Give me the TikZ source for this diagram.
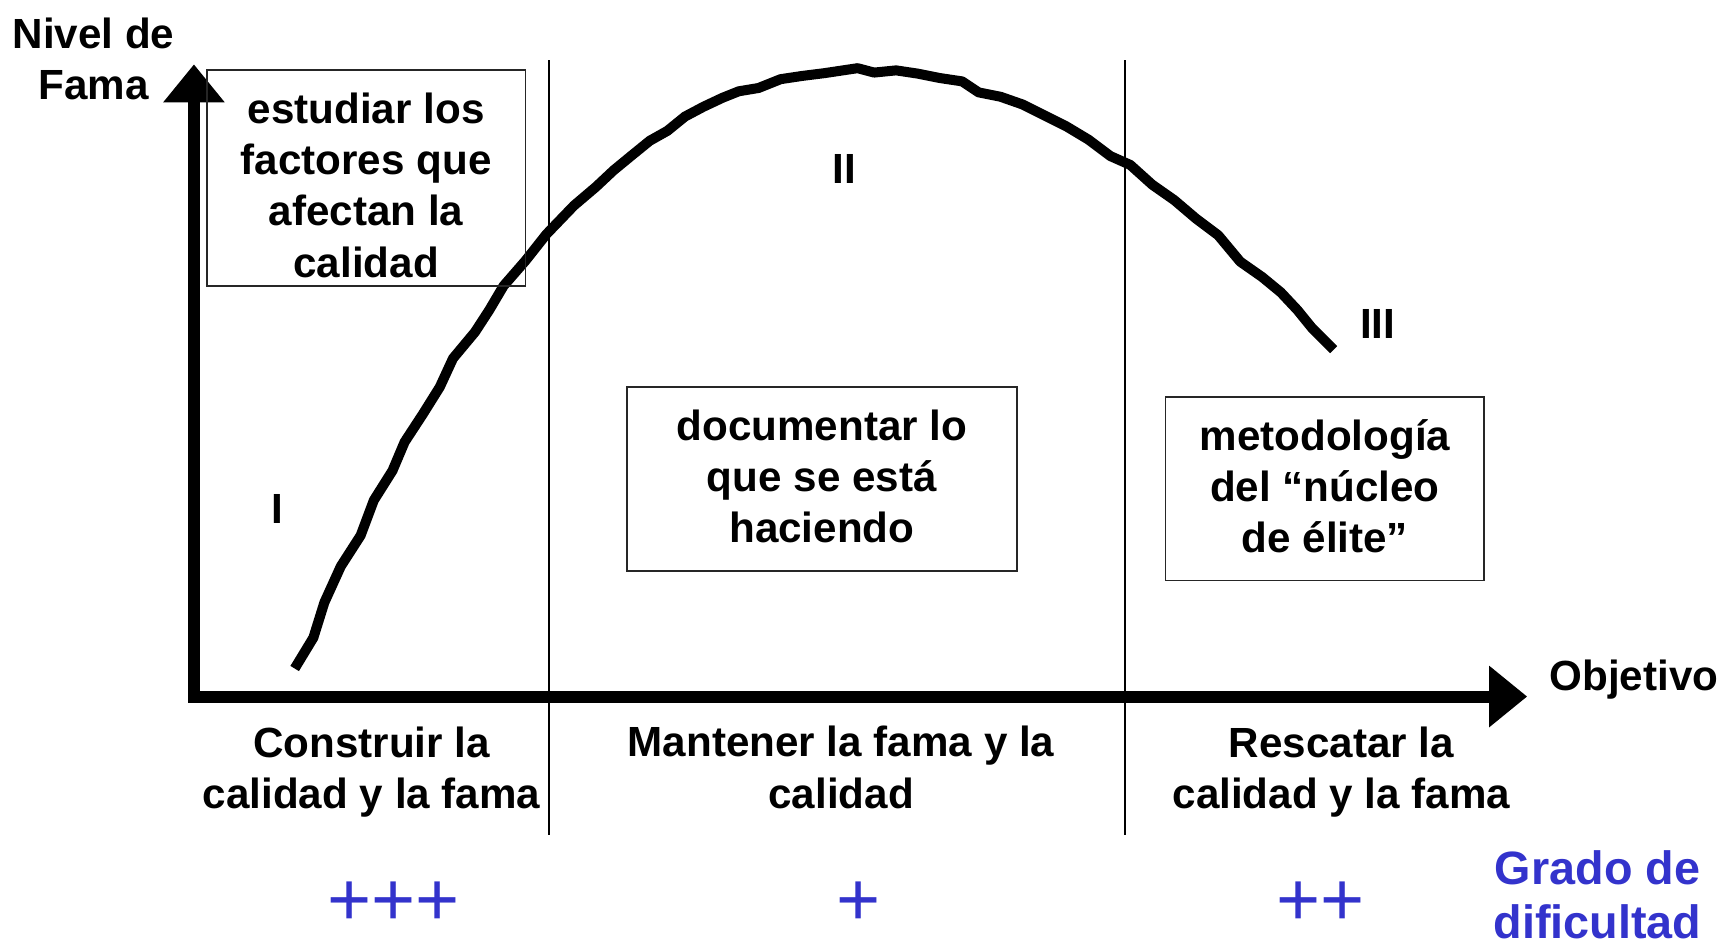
\documentclass[tikz,border=0pt]{standalone}
\usepackage{fontspec}
\setmainfont{Liberation Sans}
\usetikzlibrary{arrows.meta}
\definecolor{diffblue}{RGB}{51,51,204}
\begin{document}
\begin{tikzpicture}[x=0.02199cm,y=-0.02199cm,
  lbl/.style={font=\bfseries\fontsize{24}{29.1}\selectfont, align=center, inner sep=0pt},
  roman/.style={font=\bfseries\fontsize{24}{29.1}\selectfont, inner sep=0pt},
  frame/.style={draw=black!85, line width=1pt, inner sep=0pt},
  axis/.style={line width=0.24cm, line join=miter,
    {Triangle[length=0.76cm,width=1.18cm]}-{Triangle[length=0.76cm,width=1.18cm]}},
  sep/.style={line width=1.3pt},
  curve/.style={line width=0.2cm, line join=round},
  plus/.style={font=\fontsize{43}{46}\selectfont, text=diffblue, inner sep=0pt},
  grado/.style={font=\bfseries\fontsize{26.6}{31}\selectfont, text=diffblue, align=center, inner sep=0pt}]
\useasboundingbox (0,0) rectangle (1568,858);

% separators
\coordinate (s1t) at (499.3,55);
\coordinate (s1b) at (499.3,759);
\coordinate (s2t) at (1023.2,55);
\coordinate (s2b) at (1023.2,759);
\draw[sep] (s1t) -- (s1b);
\draw[sep] (s2t) -- (s2b);

% axes
\coordinate (O) at (176.4,633.5);
\coordinate (ytip) at (176.4,58.5);
\coordinate (xtip) at (1389,633.5);
\draw[axis] (ytip) -- (O) -- (xtip);

\node[lbl] (ylab) at (85,53.5) {Nivel de\\Fama};
\node[lbl] (xlab) at (1486,618) {Objetivo};

% curve
\draw[curve] plot coordinates {(268,608) (285,580) (295,548) (310,515) (328,487) (340,455) (357,428) (368,402) (385,376) (400,352) (412,326) (432,302) (445,282) (458,260) (478,237) (497,213) (522,187) (542,170) (558,155) (575,141) (591,128) (607,119) (623,106) (640,97) (657,89) (672,83) (690,80) (710,72) (730,69) (750,66.5) (780,62) (795,66) (815,64) (835,67) (855,71) (875,74) (890,84) (910,88) (930,95) (950,105) (970,115) (990,127) (1010,142) (1028,150) (1048,168) (1068,182) (1088,199) (1108,214) (1128,238) (1148,252) (1165,266) (1180,282) (1193,298) (1213,318)};

% boxes
\node[frame, minimum width=6.377cm, minimum height=4.31cm] (b1) at (333,162) {};
\node[lbl] (t1) at (333,168.5) {estudiar los\\factores que\\afectan la\\calidad};
\node[frame, minimum width=7.806cm, minimum height=3.672cm] (b2) at (747.5,435.5) {};
\node[lbl] (t2) at (747.5,433) {documentar lo\\que se está\\haciendo};
\node[frame, minimum width=6.377cm, minimum height=3.672cm] (b3) at (1205,444.5) {};
\node[lbl] (t3) at (1205,442) {metodología\\del “núcleo\\de élite”};

% roman numerals
\node[roman] (r1) at (252,463) {I};
\node[roman] (r2) at (768,154) {II};
\node[roman] (r3) at (1253,295) {III};

% bottom labels
\node[lbl] (g1) at (338,702) {Construir la\\calidad y la fama};
\node[lbl] (g2) at (765,698) {Mantener la fama y la\\calidad};
\node[lbl] (g3) at (1220,702) {Rescatar la\\calidad y la fama};

% difficulty
\node[plus] (p1) at (358,822) {+++};
\node[plus] (p2) at (781,822) {+};
\node[plus] (p3) at (1201,822) {++};
\node[grado] (gd) at (1453,814) {Grado de\\dificultad};
\end{tikzpicture}
\end{document}
